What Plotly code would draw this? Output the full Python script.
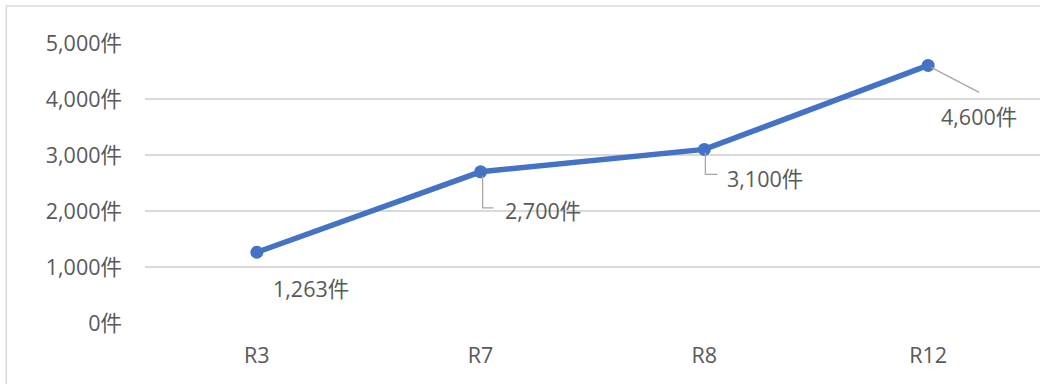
import plotly.graph_objects as go

# Yearly case counts
categories = ["R3", "R7", "R8", "R12"]
counts = [1263, 2700, 3100, 4600]
label_texts = ["1,263件", "2,700件", "3,100件", "4,600件"]
y_tick_values = [0, 1000, 2000, 3000, 4000, 5000]
y_tick_labels = ["0件", "1,000件", "2,000件", "3,000件", "4,000件", "5,000件"]

FONT = "Open Sans, Noto Sans CJK JP"
SIZE = 21.5
TEXT = "#595959"
GRID = "#d9d9d9"
LEADER = "#a6a6a6"
LINE = "#4472C4"

fig = go.Figure()
fig.add_trace(go.Scatter(
    x=categories, y=counts, mode="lines+markers",
    line=dict(color=LINE, width=5.5),
    marker=dict(color=LINE, size=13),
    hoverinfo="skip", showlegend=False,
))

# label placement (pixel offsets from each point) and leader style
label_offsets = [(54, -36), (62, -39), (61, -29), (51, -51)]
leader_paths = [None, "M2,-4 V-36 H13", "M1,-3 V-25 H13", "M3,-2 L51,-27"]

for cat, val, txt, (dx, dy), path in zip(categories, counts, label_texts,
                                          label_offsets, leader_paths):
    fig.add_annotation(x=cat, y=val, text=txt, showarrow=False,
                       xshift=dx, yshift=dy,
                       font=dict(family=FONT, size=SIZE, color=TEXT))
    if path:
        fig.add_shape(type="path", xref="x", yref="y",
                      xsizemode="pixel", ysizemode="pixel",
                      xanchor=cat, yanchor=val, path=path,
                      line=dict(color=LEADER, width=1.3))

# chart area border
fig.add_shape(type="rect", xref="paper", yref="paper",
              x0=-0.155, x1=1.05, y0=-0.3, y1=1.132,
              line=dict(color=GRID, width=1.5), layer="below")

fig.update_layout(
    width=1040, height=384,
    margin=dict(l=145, r=0, t=43, b=61),
    paper_bgcolor="white", plot_bgcolor="white",
    font=dict(family=FONT, size=SIZE, color=TEXT),
    xaxis=dict(range=[-0.5, 3.5], showgrid=False, zeroline=False,
               showline=False, ticks="", ticklabelstandoff=17,
               tickfont=dict(family=FONT, size=SIZE, color=TEXT)),
    yaxis=dict(range=[0, 5000], tickvals=y_tick_values, ticktext=y_tick_labels,
               showgrid=True, gridcolor=GRID, gridwidth=1.5,
               zeroline=False, showline=False, ticks="",
               ticklabelstandoff=22,
               tickfont=dict(family=FONT, size=SIZE, color=TEXT)),
)

fig.write_html("out.html")
